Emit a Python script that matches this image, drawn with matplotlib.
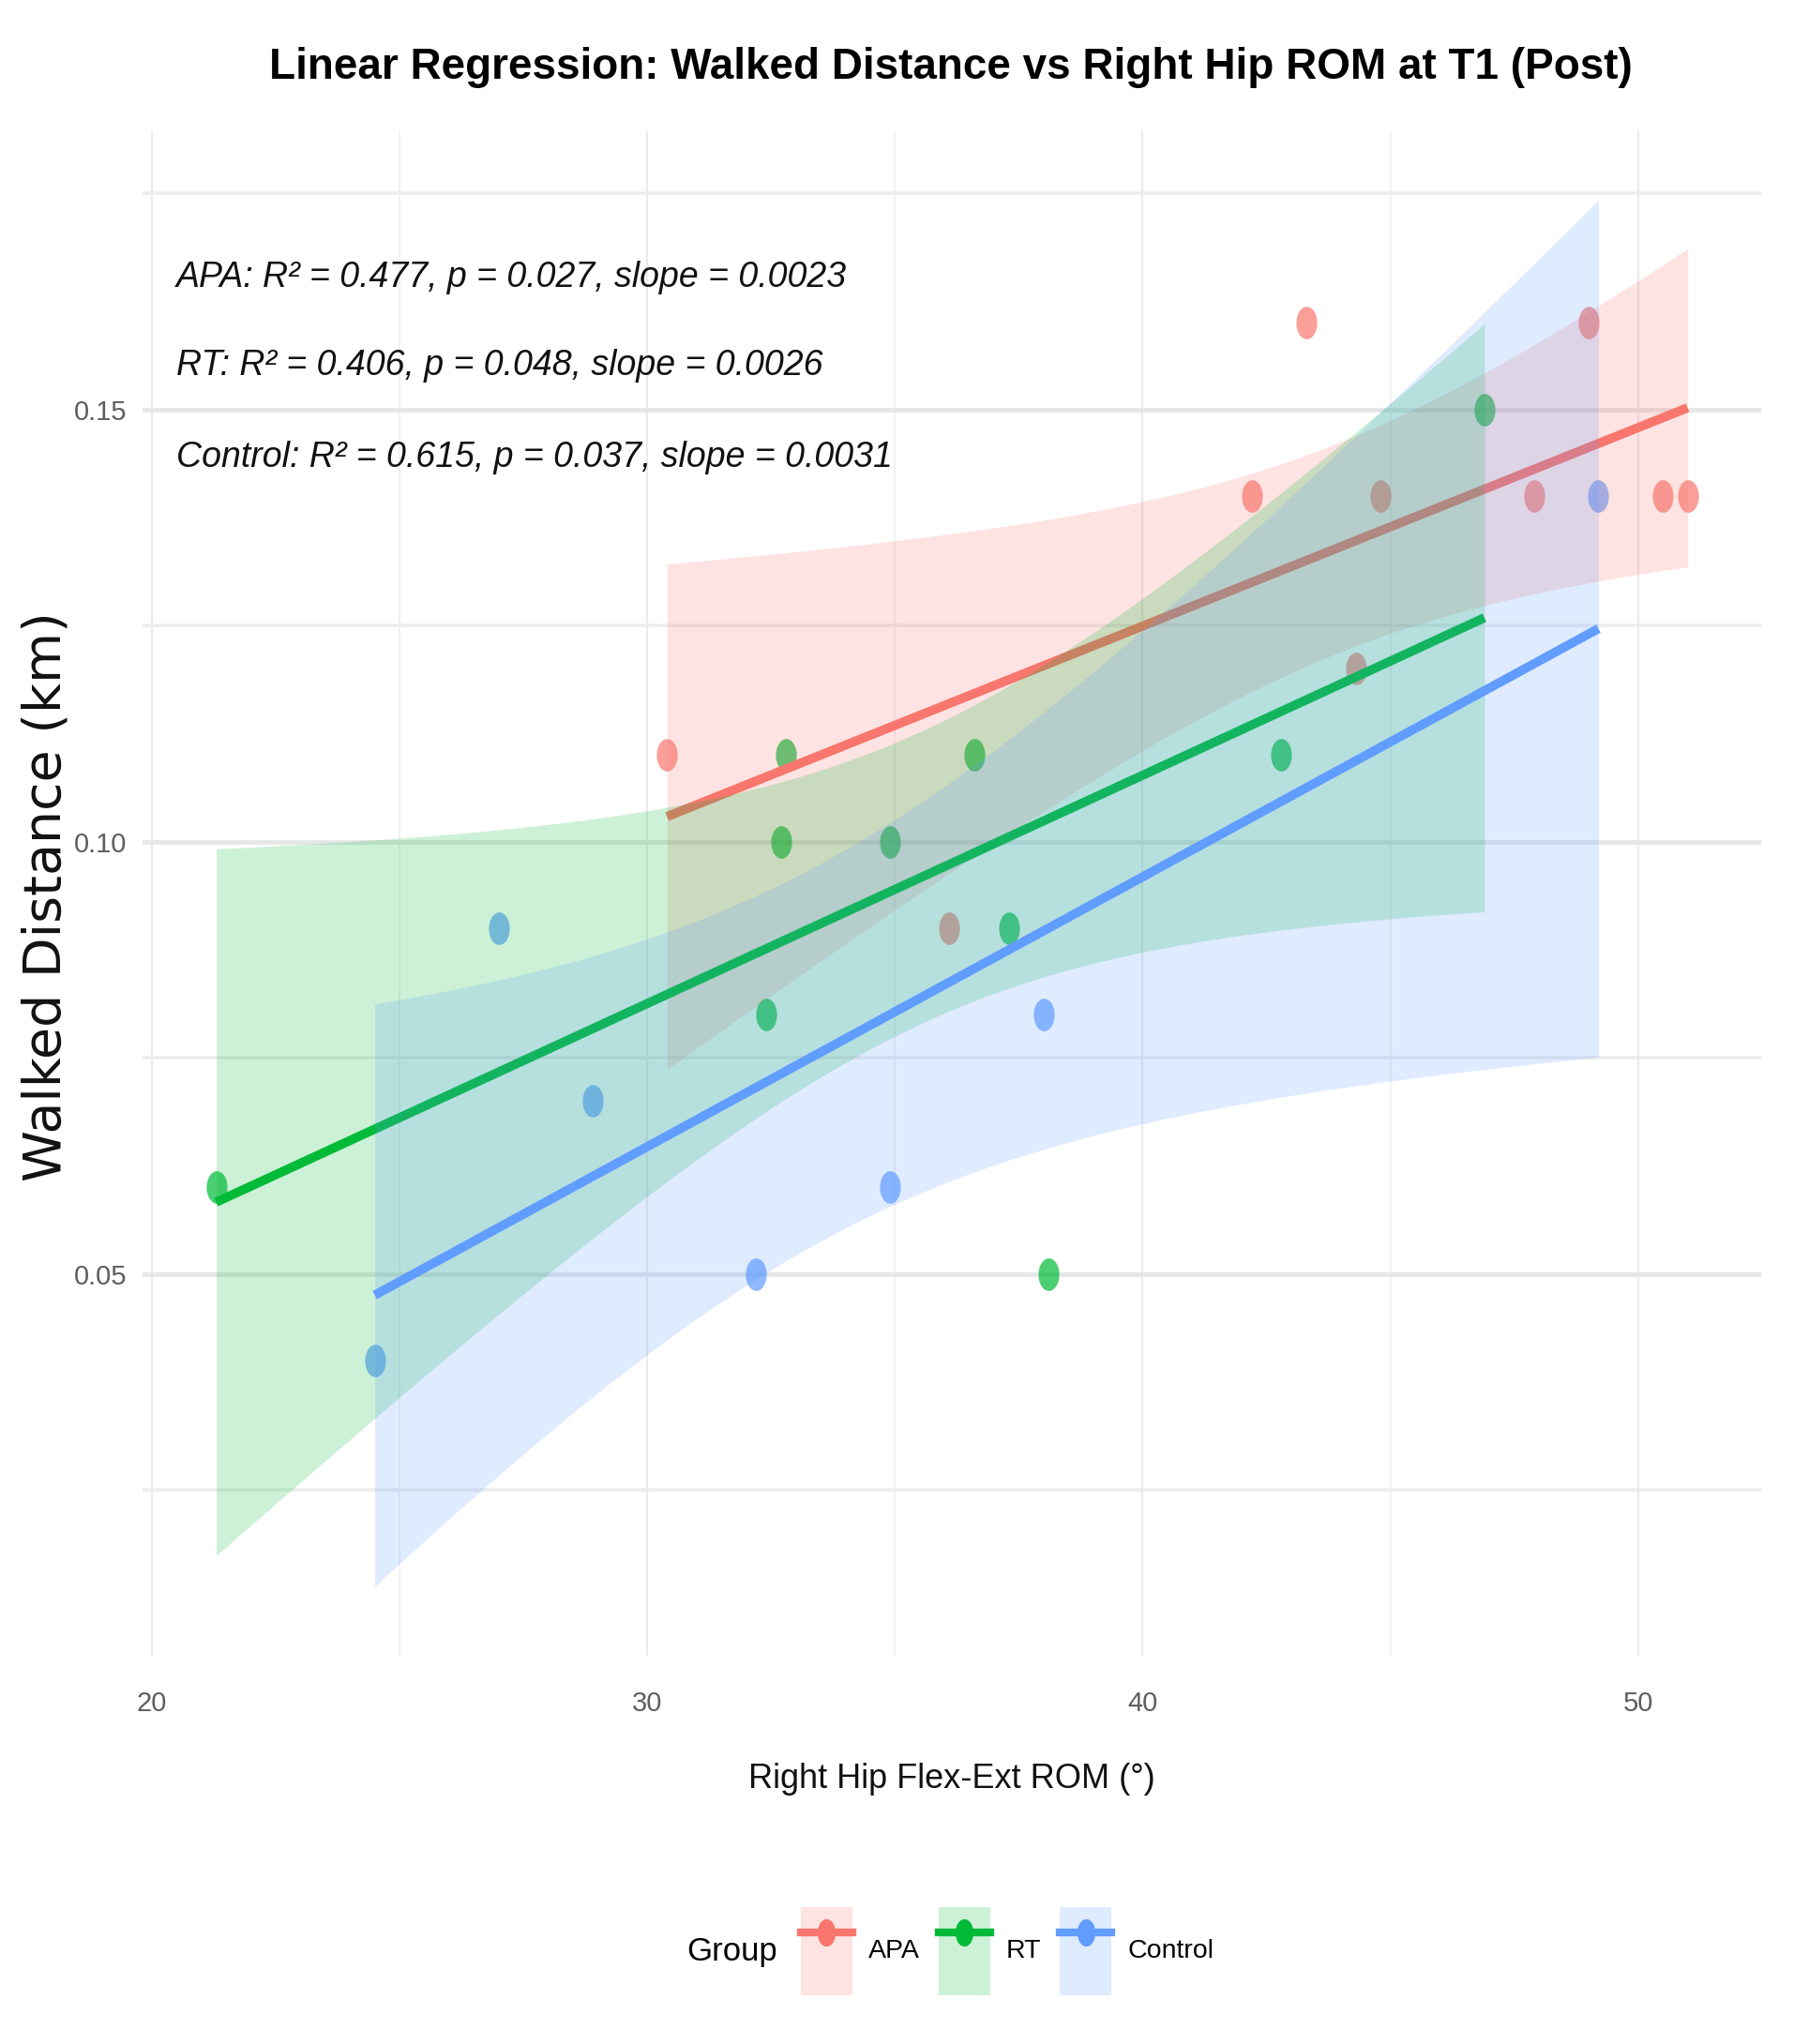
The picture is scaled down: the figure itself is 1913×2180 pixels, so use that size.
import numpy as np
import matplotlib
matplotlib.use('Agg')
import matplotlib.pyplot as plt
from matplotlib.lines import Line2D
from matplotlib.markers import MarkerStyle
from matplotlib.patches import Patch
from matplotlib.transforms import Affine2D
from matplotlib.legend_handler import HandlerTuple
from matplotlib.ticker import FixedLocator, FormatStrFormatter

# data
groups = ['APA', 'RT', 'Control']
colors = ['#F8766D', '#00BA38', '#619CFF']

apa_rom = [30.4, 43.3, 42.2, 44.8, 44.3, 47.9, 49.0, 50.5, 51.0, 36.1]
apa_dist = [0.11, 0.16, 0.14, 0.14, 0.12, 0.14, 0.16, 0.14, 0.14, 0.09]
rt_rom = [21.3, 32.8, 32.7, 36.6, 34.9, 32.4, 37.3, 38.1, 42.8, 46.9]
rt_dist = [0.06, 0.11, 0.10, 0.11, 0.10, 0.08, 0.09, 0.05, 0.11, 0.15]
ctrl_rom = [24.5, 27.0, 28.9, 32.2, 34.9, 38.0, 49.2]
ctrl_dist = [0.04, 0.09, 0.07, 0.05, 0.06, 0.08, 0.14]

stat_lines = ['APA: R² = 0.477, p = 0.027, slope = 0.0023',
              'RT: R² = 0.406, p = 0.048, slope = 0.0026',
              'Control: R² = 0.615, p = 0.037, slope = 0.0031']

t975 = {5: 2.571, 8: 2.306}  # t quantiles for the 95% band

fam = ['Liberation Sans', 'DejaVu Sans']

fig = plt.figure(figsize=(19.13, 21.8), dpi=100)
ax = fig.add_axes([0.0795, 0.19, 0.9022, 0.746])

xs_all = [apa_rom, rt_rom, ctrl_rom]
ys_all = [apa_dist, rt_dist, ctrl_dist]

# the reference is stretched vertically, so points look like tall ellipses
dot = MarkerStyle('o', transform=Affine2D().scale(0.64, 1.0))

# points first (ggplot draws them under the smooth layer)
for x, y, c in zip(xs_all, ys_all, colors):
    ax.plot(x, y, linestyle='none', marker=dot, color=c, ms=25, alpha=0.7, mec='none', zorder=2)

lo_all, hi_all = [], []
z = 3
for x, y, c in zip(xs_all, ys_all, colors):
    x = np.array(x)
    y = np.array(y)
    n = len(x)
    b, a = np.polyfit(x, y, 1)
    xx = np.linspace(x.min(), x.max(), 80)
    fit = a + b * xx
    s = np.sqrt(np.sum((y - (a + b * x)) ** 2) / (n - 2))
    se = s * np.sqrt(1 / n + (xx - x.mean()) ** 2 / np.sum((x - x.mean()) ** 2))
    band = t975[n - 2] * se
    ax.fill_between(xx, fit - band, fit + band, color=c, alpha=0.2, lw=0, zorder=z)
    ax.plot(xx, fit, color=c, lw=7, zorder=z + 1, solid_capstyle='butt')
    lo_all.append((fit - band).min())
    hi_all.append((fit + band).max())
    z += 2

xmin = min(min(v) for v in xs_all)
xmax = max(max(v) for v in xs_all)
ymin = min(min(lo_all), min(min(v) for v in ys_all))
ymax = max(max(hi_all), max(max(v) for v in ys_all))
ax.set_xlim(xmin - 0.05 * (xmax - xmin), xmax + 0.05 * (xmax - xmin))
ax.set_ylim(ymin - 0.05 * (ymax - ymin), ymax + 0.05 * (ymax - ymin))

ax.xaxis.set_major_locator(FixedLocator([20, 30, 40, 50]))
ax.xaxis.set_minor_locator(FixedLocator([25, 35, 45]))
ax.yaxis.set_major_locator(FixedLocator([0.05, 0.10, 0.15]))
ax.yaxis.set_minor_locator(FixedLocator([0.025, 0.075, 0.125, 0.175]))
ax.yaxis.set_major_formatter(FormatStrFormatter('%.2f'))

ax.grid(True, axis='y', which='major', color='#E6E6E6', lw=3.4, zorder=0)
ax.grid(True, axis='y', which='minor', color='#EDEDED', lw=2.6, zorder=0)
ax.grid(True, axis='x', which='major', color='#EBEBEB', lw=1.6, zorder=0)
ax.grid(True, axis='x', which='minor', color='#F0F0F0', lw=1.2, zorder=0)
ax.set_axisbelow(True)
for sp in ax.spines.values():
    sp.set_visible(False)
ax.tick_params(which='both', length=0)
ax.tick_params(axis='x', pad=27)
ax.tick_params(axis='y', pad=12)
for lab in ax.get_xticklabels() + ax.get_yticklabels():
    lab.set_family(fam)
    lab.set_fontsize(21)
    lab.set_color('#5E5E5E')

# stats text
for i, line in enumerate(stat_lines):
    ax.text(0.021, [0.9035, 0.846, 0.786][i], line, transform=ax.transAxes,
            family=fam, style='italic', fontsize=27, va='center', ha='left',
            color='#111111')

fig.text(0.53, 0.967, 'Linear Regression: Walked Distance vs Right Hip ROM at T1 (Post)',
         family=fam, fontweight='bold', fontsize=33, ha='center', va='center')

ax.set_xlabel('Right Hip Flex-Ext ROM (°)', family=fam, fontsize=26, color='#111111')
ax.xaxis.set_label_coords(0.5, -0.081)
ax.xaxis.label.set_va('center')
ax.set_ylabel('Walked Distance (km)', family='DejaVu Sans', fontsize=40, color='#111111')
ax.yaxis.set_label_coords(-0.0597, 0.498)
ax.yaxis.label.set_va('center')

# legend
handles = []
for c in colors:
    box = Patch(facecolor=c, alpha=0.2, edgecolor='none')
    ln = Line2D([], [], color=c, lw=6, marker=dot, ms=20)
    handles.append((box, ln))
fig.text(0.408, 0.0454, 'Group', family=fam, fontsize=25, ha='center', va='center')
fig.legend(handles, groups, loc='center', bbox_to_anchor=(0.5615, 0.0454), ncol=3,
           frameon=False, prop={'family': fam, 'size': 20.5},
           handler_map={tuple: HandlerTuple(ndivide=1, pad=0)},
           handlelength=1.93, handleheight=4.7, handletextpad=0.6,
           columnspacing=0.7, borderpad=0)

fig.savefig('out.png', dpi=100, facecolor='white')
